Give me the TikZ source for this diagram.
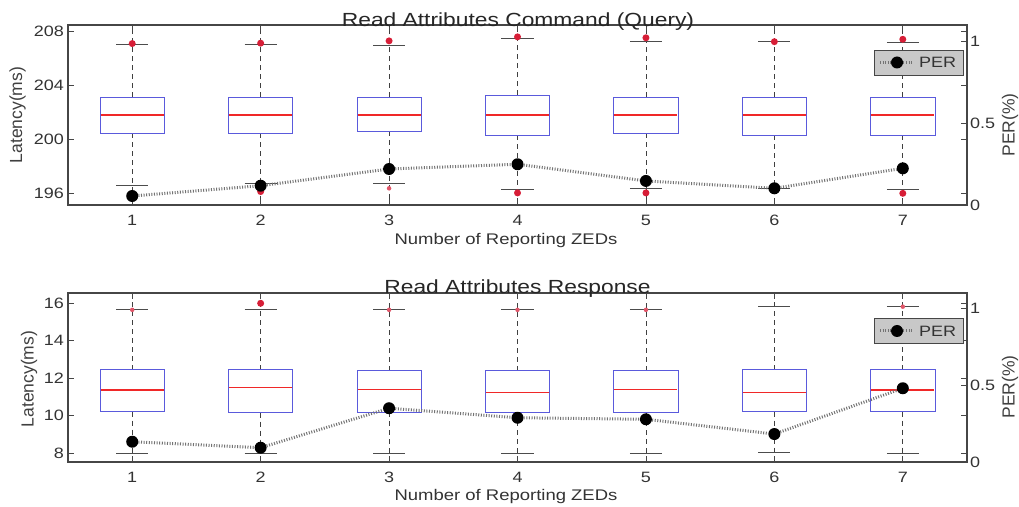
\documentclass[tikz,border=0pt]{standalone}
\usepackage{fontspec}
\setmainfont{Liberation Sans}[FakeStretch=1.2]
\newfontfamily\sidefont{Liberation Sans}
\definecolor{boxblue}{RGB}{90,90,220}
\definecolor{medred}{RGB}{240,40,40}
\definecolor{outred}{RGB}{215,30,55}
\definecolor{axisgray}{RGB}{70,70,70}
\definecolor{pergray}{RGB}{115,115,115}
\definecolor{legfill}{RGB}{200,200,200}
\begin{document}
\begin{tikzpicture}[x=1pt,y=1pt,
  boxline/.style={draw=boxblue, line width=0.8pt},
  medline/.style={draw=medred, line width=1.3pt},
  whisk/.style={draw=black!75, line width=0.8pt, dash pattern=on 5pt off 4pt},
  capline/.style={draw=black!70, line width=0.9pt},
  outlier/.style={circle, fill=outred, inner sep=0pt, minimum size=7pt},
  smallout/.style={circle, fill=outred!75, inner sep=0pt, minimum size=4.5pt},
  perdot/.style={circle, fill=black, inner sep=0pt, minimum size=12pt},
  perline/.style={draw=pergray, line width=3pt, dash pattern=on 1pt off 1.6pt},
  frame/.style={draw=axisgray, line width=1.2pt},
  tickmark/.style={draw=axisgray, line width=0.8pt},
  ticklab/.style={font=\fontsize{15}{15}\selectfont, text=black!80, inner sep=0pt},
  titlelab/.style={font=\fontsize{19}{19}\selectfont, text=black!85, inner sep=0pt, anchor=base},
  xlab/.style={font=\fontsize{15.4}{15.4}\selectfont, text=black!80, inner sep=0pt, anchor=base},
  ylab/.style={font=\sidefont\fontsize{17.5}{17.5}\selectfont, text=black!75, inner sep=0pt, rotate=90},
  legbox/.style={draw=axisgray, fill=legfill, line width=0.9pt, minimum width=89pt, minimum height=25pt, inner sep=0pt}
]
\useasboundingbox (0,0) rectangle (1019,506);

% ===================== upper panel: Read Attributes Command =====================
\begin{scope}[shift={(68,301)}, x=128.43pt, y=13.43pt]
\begin{scope}[shift={(-0.5,-195.1)}]
  % box plots
  \foreach \i/\qa/\md/\qc/\lo/\hi in {1/200.46/201.8/203.14/196.59/207.09,
      2/200.46/201.8/203.14/196.71/207.06, 3/200.61/201.8/203.14/196.71/207.01,
      4/200.31/201.8/203.29/196.27/207.51, 5/200.46/201.8/203.14/196.34/207.26,
      6/200.31/201.8/203.14/196.34/207.26, 7/200.31/201.8/203.14/196.27/207.18}{
    \draw[whisk] (\i,\qc) -- (\i,208.5);
    \draw[whisk] (\i,\qa) -- (\i,195.1);
    \draw[capline] ({\i-0.125},\hi) -- ({\i+0.125},\hi);
    \draw[capline] ({\i-0.125},\lo) -- ({\i+0.125},\lo);
    \draw[boxline] ({\i-0.25},\qa) rectangle ({\i+0.25},\qc);
    \draw[medline] ({\i-0.245},\md) -- ({\i+0.245},\md);
  }
  % outliers
  \foreach \n/\i/\v in {a/1/207.12, b/2/207.15, c/3/207.32, d/4/207.62, e/5/207.55,
      f/6/207.26, g/7/207.44, h/2/196.1, k/4/196.0, l/5/196.0, m/7/195.97}{
    \node[outlier] (uo\n) at (\i,\v) {};
  }
  \node[smallout] (uon) at (3,196.34) {};
  % axis ticks (latency)
  \foreach \v in {196,200,204,208}{
    \draw[tickmark] (0.5,\v) -- ++(6pt,0);
    \draw[tickmark] (7.5,\v) -- ++(-6pt,0);
    \node[ticklab, anchor=east, xshift=-4pt] (uyl\v) at (0.5,\v) {\v};
  }
  \foreach \i in {1,...,7}{
    \draw[tickmark] (\i,195.1) -- ++(0,6pt);
    \draw[tickmark] (\i,208.5) -- ++(0,-6pt);
    \node[ticklab, anchor=base, yshift=-20.5pt] (uxl\i) at (\i,195.1) {\i};
  }
\end{scope}
\end{scope}

% PER series, upper panel
\begin{scope}[shift={(68,301)}, x=128.43pt, y=163.64pt]
\begin{scope}[shift={(-0.5,0)}]
  \foreach \i/\p in {1/0.055, 2/0.118, 3/0.22, 4/0.249, 5/0.147, 6/0.102, 7/0.224}{
    \node[perdot] (up\i) at (\i,\p) {};
  }
  \draw[perline] (up1) -- (up2) -- (up3) -- (up4) -- (up5) -- (up6) -- (up7);
  \foreach \k/\p/\t in {a/0/0, b/0.5/0.5, c/1/1}{
    \draw[tickmark] (7.5,\p) -- ++(-6pt,0);
    \node[ticklab, anchor=west, xshift=3pt] (ur\k) at (7.5,\p) {\t};
  }
  \draw[frame] (0.5,0) rectangle (7.5,1.1);
\end{scope}
\end{scope}

% legend, upper panel
\node[legbox] (ulegend) at (918.5,443.5) {};
\coordinate (ulegl) at (880,443.5);
\coordinate (ulegr) at (913,443.5);
\draw[perline] (ulegl) -- (ulegr);
\node[perdot] (ulegdot) at (897,443.5) {};
\node[ticklab, anchor=west] (ulegtext) at (919,443.5) {PER};

% labels, upper panel
\node[titlelab] (utitle) at (518,479) {Read Attributes Command (Query)};
\node[xlab] (uxlabel) at (506,261) {Number of Reporting ZEDs};
\node[ylab] (uylabel) at (17.5,391) {Latency(ms)};
\node[ylab] (uperlabel) at (1010,381) {PER(\%)};

% ===================== lower panel: Read Attributes Response =====================
\begin{scope}[shift={(68,44)}, x=128.43pt, y=18.76pt]
\begin{scope}[shift={(-0.5,-7.52)}]
  \foreach \i/\qa/\md/\qc/\lo/\hi in {1/10.2/11.36/12.43/7.95/15.63,
      2/10.15/11.49/12.43/7.95/15.63, 3/10.17/11.4/12.39/7.95/15.63,
      4/10.17/11.22/12.39/7.95/15.63, 5/10.17/11.4/12.39/7.95/15.63,
      6/10.2/11.22/12.43/8.05/15.8, 7/10.2/11.36/12.43/7.95/15.8}{
    \draw[whisk] (\i,\qc) -- (\i,16.53);
    \draw[whisk] (\i,\qa) -- (\i,7.52);
    \draw[capline] ({\i-0.125},\hi) -- ({\i+0.125},\hi);
    \draw[capline] ({\i-0.125},\lo) -- ({\i+0.125},\lo);
    \draw[boxline] ({\i-0.25},\qa) rectangle ({\i+0.25},\qc);
    \draw[medline] ({\i-0.245},\md) -- ({\i+0.245},\md);
  }
  \node[outlier] (lob) at (2,15.98) {};
  \foreach \n/\i/\v in {a/1/15.63, c/3/15.63, d/4/15.63, e/5/15.63, g/7/15.8}{
    \node[smallout] (lo\n) at (\i,\v) {};
  }
  \foreach \v in {8,10,12,14,16}{
    \draw[tickmark] (0.5,\v) -- ++(6pt,0);
    \draw[tickmark] (7.5,\v) -- ++(-6pt,0);
    \node[ticklab, anchor=east, xshift=-4pt] (lyl\v) at (0.5,\v) {\v};
  }
  \foreach \i in {1,...,7}{
    \draw[tickmark] (\i,7.52) -- ++(0,6pt);
    \draw[tickmark] (\i,16.53) -- ++(0,-6pt);
    \node[ticklab, anchor=base, yshift=-20.5pt] (lxl\i) at (\i,7.52) {\i};
  }
\end{scope}
\end{scope}

% PER series, lower panel
\begin{scope}[shift={(68,44)}, x=128.43pt, y=153.64pt]
\begin{scope}[shift={(-0.5,0)}]
  \foreach \i/\p in {1/0.132, 2/0.093, 3/0.35, 4/0.288, 5/0.278, 6/0.182, 7/0.48}{
    \node[perdot] (lp\i) at (\i,\p) {};
  }
  \draw[perline] (lp1) -- (lp2) -- (lp3) -- (lp4) -- (lp5) -- (lp6) -- (lp7);
  \foreach \k/\p/\t in {a/0/0, b/0.5/0.5, c/1/1}{
    \draw[tickmark] (7.5,\p) -- ++(-6pt,0);
    \node[ticklab, anchor=west, xshift=3pt] (lr\k) at (7.5,\p) {\t};
  }
  \draw[frame] (0.5,0) rectangle (7.5,1.1);
\end{scope}
\end{scope}

% legend, lower panel
\node[legbox] (llegend) at (918.5,175) {};
\coordinate (llegl) at (880,175);
\coordinate (llegr) at (913,175);
\draw[perline] (llegl) -- (llegr);
\node[perdot] (llegdot) at (897,175) {};
\node[ticklab, anchor=west] (llegtext) at (919,175) {PER};

% labels, lower panel
\node[titlelab] (ltitle) at (517.5,212) {Read Attributes Response};
\node[xlab] (lxlabel) at (506,5.3) {Number of Reporting ZEDs};
\node[ylab] (lylabel) at (29,127) {Latency(ms)};
\node[ylab] (lperlabel) at (1010,119) {PER(\%)};
\end{tikzpicture}
\end{document}
